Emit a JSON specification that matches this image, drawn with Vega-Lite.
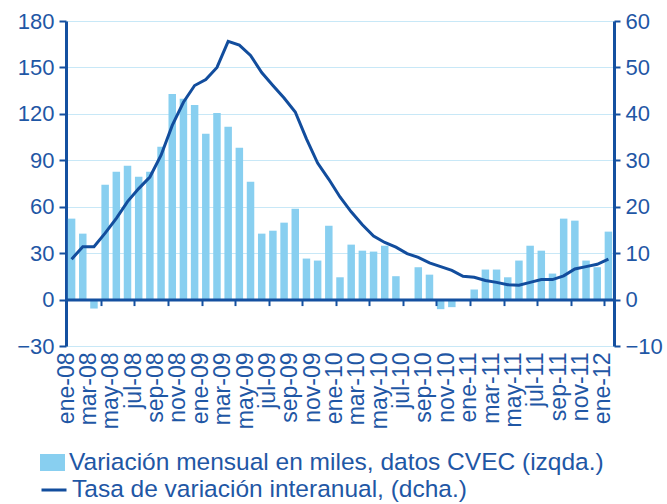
{
  "$schema": "https://vega.github.io/schema/vega-lite/v6.json",
  "width": 548,
  "height": 325,
  "autosize": {"type": "none"},
  "padding": {"left": 66, "top": 21, "right": 53, "bottom": 158},
  "background": "white",
  "config": {"view": {"stroke": null}, "font": "Liberation Sans"},
  "data": {"values": [
    {"mes": "ene-08", "var": 52.3, "tasa": 8.7},
    {"mes": "feb-08", "var": 42.6, "tasa": 11.4},
    {"mes": "mar-08", "var": -5.8, "tasa": 11.4},
    {"mes": "abr-08", "var": 74.2, "tasa": 14.3},
    {"mes": "may-08", "var": 82.6, "tasa": 17.5},
    {"mes": "jun-08", "var": 86.5, "tasa": 21.1},
    {"mes": "jul-08", "var": 79.4, "tasa": 23.9},
    {"mes": "ago-08", "var": 82.6, "tasa": 26.4},
    {"mes": "sep-08", "var": 98.7, "tasa": 31.1},
    {"mes": "oct-08", "var": 132.9, "tasa": 37.5},
    {"mes": "nov-08", "var": 129.7, "tasa": 42.5},
    {"mes": "dic-08", "var": 125.8, "tasa": 46.1},
    {"mes": "ene-09", "var": 107.1, "tasa": 47.4},
    {"mes": "feb-09", "var": 120.6, "tasa": 50.0},
    {"mes": "mar-09", "var": 111.6, "tasa": 55.6},
    {"mes": "abr-09", "var": 98.1, "tasa": 54.8},
    {"mes": "may-09", "var": 76.1, "tasa": 52.6},
    {"mes": "jun-09", "var": 42.6, "tasa": 48.9},
    {"mes": "jul-09", "var": 44.5, "tasa": 46.1},
    {"mes": "ago-09", "var": 49.7, "tasa": 43.4},
    {"mes": "sep-09", "var": 58.7, "tasa": 40.4},
    {"mes": "oct-09", "var": 26.5, "tasa": 34.6},
    {"mes": "nov-09", "var": 25.2, "tasa": 29.4},
    {"mes": "dic-09", "var": 47.7, "tasa": 25.9},
    {"mes": "ene-10", "var": 14.4, "tasa": 22.1},
    {"mes": "feb-10", "var": 35.5, "tasa": 18.9},
    {"mes": "mar-10", "var": 31.6, "tasa": 16.1},
    {"mes": "abr-10", "var": 31.0, "tasa": 13.7},
    {"mes": "may-10", "var": 34.8, "tasa": 12.3},
    {"mes": "jun-10", "var": 15.1, "tasa": 11.3},
    {"mes": "jul-10", "var": 0, "tasa": 9.9},
    {"mes": "ago-10", "var": 20.9, "tasa": 9.1},
    {"mes": "sep-10", "var": 16.1, "tasa": 7.9},
    {"mes": "oct-10", "var": -6.2, "tasa": 7.1},
    {"mes": "nov-10", "var": -4.9, "tasa": 6.3},
    {"mes": "dic-10", "var": 0, "tasa": 5.0},
    {"mes": "ene-11", "var": 6.5, "tasa": 4.8},
    {"mes": "feb-11", "var": 19.4, "tasa": 4.1},
    {"mes": "mar-11", "var": 19.4, "tasa": 3.7},
    {"mes": "abr-11", "var": 14.4, "tasa": 3.2},
    {"mes": "may-11", "var": 25.2, "tasa": 3.1},
    {"mes": "jun-11", "var": 34.8, "tasa": 3.7},
    {"mes": "jul-11", "var": 31.6, "tasa": 4.3},
    {"mes": "ago-11", "var": 16.8, "tasa": 4.3},
    {"mes": "sep-11", "var": 52.3, "tasa": 5.1},
    {"mes": "oct-11", "var": 51.0, "tasa": 6.6},
    {"mes": "nov-11", "var": 25.2, "tasa": 7.1},
    {"mes": "dic-11", "var": 20.9, "tasa": 7.6},
    {"mes": "ene-12", "var": 43.9, "tasa": 8.7}
  ]},
  "layer": [
    {
      "mark": {"type": "bar"},
      "encoding": {
        "x": {
          "field": "mes", "type": "ordinal", "sort": null,
          "scale": {"paddingInner": 0.33, "paddingOuter": 0.165},
          "axis": {
            "orient": "bottom",
            "values": ["ene-08","mar-08","may-08","jul-08","sep-08","nov-08","ene-09","mar-09","may-09","jul-09","sep-09","nov-09","ene-10","mar-10","may-10","jul-10","sep-10","nov-10","ene-11","mar-11","may-11","jul-11","sep-11","nov-11","ene-12"],
            "labelAngle": -90, "labelAlign": "right", "labelBaseline": "middle",
            "ticks": false, "domain": false, "grid": false, "title": null,
            "labelPadding": 6, "labelFontSize": 23, "labelColor": "#1f57a5",
            "labelOffset": -5, "labelOverlap": false, "labelFont": "Liberation Sans"
          }
        },
        "y": {
          "field": "var", "type": "quantitative",
          "scale": {"domain": [-30, 180], "nice": false, "zero": false},
          "axis": {
            "values": [-30, 0, 30, 60, 90, 120, 150, 180],
            "title": null, "grid": true, "gridColor": "#c8e8f7", "gridWidth": 1.2,
            "domainColor": "#1450a0", "domainWidth": 3,
            "tickColor": "#1450a0", "tickWidth": 2, "tickSize": 7,
            "labelPadding": 5, "labelFontSize": 22, "labelColor": "#1f57a5",
            "labelFont": "Liberation Sans"
          }
        },
        "color": {
          "datum": "Variación mensual en miles, datos CVEC (izqda.)",
          "scale": {"range": ["#88cff0"]},
          "legend": {
            "orient": "none", "legendX": -26, "legendY": 429, "title": null,
            "symbolType": "M-1,-0.68L1,-0.68L1,0.68L-1,0.68Z", "symbolSize": 625,
            "symbolStrokeWidth": 0, "labelFontSize": 24.5, "labelColor": "#1f57a5",
            "labelFont": "Liberation Sans", "labelOffset": 4, "labelLimit": 0, "padding": 0
          }
        }
      }
    },
    {
      "mark": {"type": "line", "strokeWidth": 3},
      "encoding": {
        "x": {
          "field": "mes", "type": "ordinal", "sort": null,
          "axis": {
            "orient": "bottom",
            "values": ["abr-08","jul-08","oct-08","ene-09","abr-09","jul-09","oct-09","ene-10","abr-10","jul-10","oct-10","ene-11","abr-11","jul-11","oct-11","ene-12"],
            "bandPosition": 0, "offset": -46.43, "labels": false, "grid": false, "title": null,
            "domainColor": "#1450a0", "domainWidth": 3,
            "tickColor": "#1450a0", "tickWidth": 2, "tickSize": 6, "zindex": 1
          }
        },
        "y": {
          "field": "tasa", "type": "quantitative",
          "scale": {"domain": [-10, 60], "nice": false, "zero": false},
          "axis": {
            "orient": "right",
            "values": [-10, 0, 10, 20, 30, 40, 50, 60],
            "title": null, "grid": false,
            "domainColor": "#1450a0", "domainWidth": 3,
            "tickColor": "#1450a0", "tickWidth": 2, "tickSize": 6,
            "labelPadding": 5, "labelFontSize": 22, "labelColor": "#1f57a5",
            "labelFont": "Liberation Sans"
          }
        },
        "stroke": {
          "datum": "Tasa de variación interanual, (dcha.)",
          "scale": {"range": ["#124d9d"]},
          "legend": {
            "orient": "none", "legendX": -26, "legendY": 455, "title": null,
            "symbolType": "stroke", "symbolSize": 625, "symbolStrokeWidth": 3,
            "labelFontSize": 24.5, "labelColor": "#1f57a5",
            "labelFont": "Liberation Sans", "labelOffset": 4, "labelLimit": 0, "padding": 0
          }
        }
      }
    }
  ],
  "resolve": {
    "scale": {"y": "independent"},
    "axis": {"x": "independent", "y": "independent"}
  }
}
